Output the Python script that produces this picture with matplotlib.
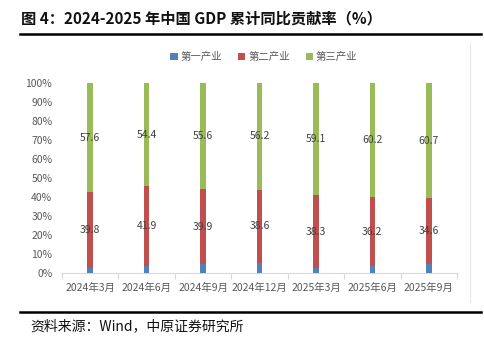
import numpy as np
import matplotlib
matplotlib.use("Agg")
import matplotlib.pyplot as plt
from matplotlib.lines import Line2D
from matplotlib.patches import Patch

plt.rcParams['font.family'] = ['Noto Sans CJK SC', 'DejaVu Sans']

categories = ["2024年3月", "2024年6月", "2024年9月", "2024年12月",
              "2025年3月", "2025年6月", "2025年9月"]
secondary = [39.8, 41.9, 39.9, 38.6, 38.3, 36.2, 34.6]
tertiary = [57.6, 54.4, 55.6, 56.2, 59.1, 60.2, 60.7]
primary = [100 - s - t for s, t in zip(secondary, tertiary)]
series_names = ["第一产业", "第二产业", "第三产业"]
colors = ["#4F81BD", "#C0504D", "#9BBB59"]
yticks = [0, 10, 20, 30, 40, 50, 60, 70, 80, 90, 100]

W, H = 485, 345
fig = plt.figure(figsize=(W / 100, H / 100), dpi=100)
fig.patch.set_facecolor("white")

ax = fig.add_axes([62 / W, 1 - 273 / H, (457 - 62) / W, (273 - 83) / H])
x = np.arange(len(categories))
bw = 0.1
p = np.array(primary)
s = np.array(secondary)
t = np.array(tertiary)
ax.bar(x, p, bw, color=colors[0], zorder=3)
ax.bar(x, s, bw, bottom=p, color=colors[1], zorder=3)
ax.bar(x, t, bw, bottom=p + s, color=colors[2], zorder=3)

for i in range(len(x)):
    ax.text(x[i], p[i] + s[i] / 2, f"{s[i]:.1f}", ha="center", va="center",
            fontsize=7.5, color="#404040", zorder=4)
    ax.text(x[i], p[i] + s[i] + t[i] / 2, f"{t[i]:.1f}", ha="center", va="center",
            fontsize=7.5, color="#404040", zorder=4)

ax.set_xlim(-0.18, len(x) - 1 + 0.18)
ax.set_ylim(0, 100)
ax.set_yticks(yticks)
ax.set_yticklabels([f"{v}%" for v in yticks], fontsize=7.5, color="#595959")
ax.set_xticks(x)
ax.set_xticklabels(categories, fontsize=7.5, color="#595959")
ax.tick_params(axis="y", length=0, pad=7)
ax.tick_params(axis="x", length=0, pad=7)
# boundary ticks between categories
ax.set_xticks(np.arange(len(x) + 1) - 0.5, minor=True)
ax.tick_params(axis="x", which="minor", length=4, color="#D9D9D9", width=0.8)
for sp in ["top", "right", "left"]:
    ax.spines[sp].set_visible(False)
ax.spines["bottom"].set_color("#D9D9D9")
ax.spines["bottom"].set_linewidth(0.8)

handles = [Patch(facecolor=c, edgecolor="none") for c in colors]
fig.legend(handles, series_names, loc="center", bbox_to_anchor=(264 / W, 1 - 57 / H),
           ncol=3, frameon=False, fontsize=7.5, handlelength=0.7, handleheight=0.7,
           handletextpad=0.3, columnspacing=1.5, labelcolor="#595959")

# faint vertical guide on the right edge
fig.add_artist(Line2D([470 / W, 470 / W], [1 - 43 / H, 1 - 302 / H],
                      color="#E8E8E8", lw=0.8))

# title and rules
fig.text(21 / W, 1 - 18 / H, "图 4：2024-2025 年中国 GDP 累计同比贡献率（%）",
         fontsize=11, fontweight="bold", color="#111111", ha="left", va="center")
fig.add_artist(Line2D([20 / W, 481 / W], [1 - 34 / H, 1 - 34 / H], color="black", lw=1.8))
fig.add_artist(Line2D([20 / W, 481 / W], [1 - 312 / H, 1 - 312 / H], color="black", lw=1.8))
fig.text(30 / W, 1 - 326 / H, "资料来源：Wind，中原证券研究所",
         fontsize=10, color="#111111", ha="left", va="center")

fig.savefig("out.png", dpi=100, facecolor="white")
